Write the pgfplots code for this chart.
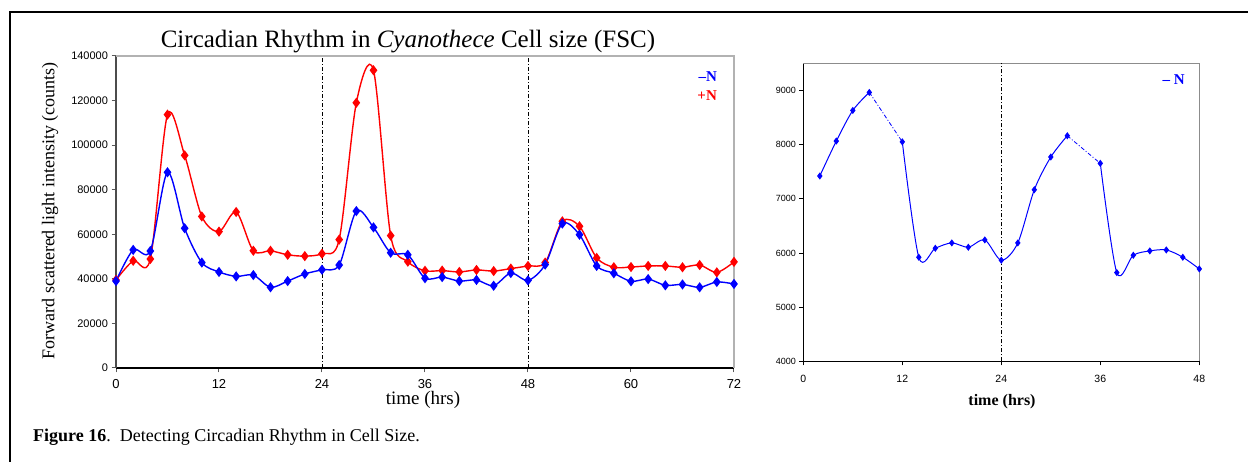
\documentclass[border=0pt]{standalone}
\usepackage{fontspec}
\setmainfont{Liberation Serif}
\newfontfamily\tickfont{Liberation Sans}
\usepackage{pgfplots}
\usepackage{pgfplotstable}
\pgfplotsset{compat=1.18}

% Forward scatter, nitrogen-free culture (-N)
\pgfplotstableread{
t v
0 39000
2 53000
4 52500
6 87800
8 62700
10 47300
12 43100
14 41100
16 41700
18 36200
20 39000
22 42200
24 44100
26 46200
28 70400
30 63100
32 51700
34 50800
36 40300
38 40800
40 39000
42 39500
44 36900
46 42600
48 39300
50 46400
52 64800
54 59800
56 45800
58 42500
60 38900
62 39900
64 37100
66 37500
68 36200
70 38600
72 37700
}\minusN

% Forward scatter, nitrogen-replete culture (+N)
\pgfplotstableread{
t v
0 39500
2 48100
4 48900
6 113700
8 95400
10 68000
12 61200
14 70000
16 52600
18 52600
20 50800
22 50200
24 51300
26 57600
28 119000
30 133600
32 59400
34 47700
36 43600
38 43700
40 43100
42 44000
44 43500
46 44600
48 45800
50 47300
52 65800
54 63600
56 49400
58 45200
60 45300
62 45800
64 45800
66 45200
68 46200
70 42900
72 47600
}\plusN

% Second run (-N), split where samples are missing
\pgfplotstableread{
t v
2 7420
4 8065
6 8630
8 8963
}\runA
\pgfplotstableread{
t v
12 8050
14 5920
16 6086
18 6185
20 6105
22 6240
24 5865
26 6185
28 7166
30 7770
32 8163
}\runB
\pgfplotstableread{
t v
36 7653
38 5637
40 5957
42 6037
44 6055
46 5920
48 5705
}\runC

\begin{document}
\begin{tikzpicture}[x=1pt,y=1pt]
\useasboundingbox (0,0) rectangle (1248,462);
% figure frame
\draw[line width=2pt] (10,-2) -- (10,450) -- (1250,450);

\pgfplotsset{
  common/.style={
    scale only axis, anchor=south west, clip=false,
    axis line style={draw=none},
    tick pos=left, tick align=outside,
    scaled ticks=false,
    /pgf/number format/fixed,
    /pgf/number format/precision=0,
    /pgf/number format/1000 sep={},
    /pgf/number format/assume math mode=true,
  },
  vline/.style={black, line width=0.8pt, dash pattern=on 4pt off 2pt on 1pt off 2pt, forget plot},
}

% ---------- left panel ----------
\begin{axis}[common,
  at={(116pt,94pt)}, width=618pt, height=312pt,
  xmin=0, xmax=72, ymin=0, ymax=140000,
  xtick={0,12,...,72}, ytick={0,20000,...,140000},
  major tick length=4.5pt,
  tick style={black!65, line width=1pt},
  yticklabel style={font=\tickfont\fontsize{11}{11}\selectfont},
  xticklabel style={font=\tickfont\fontsize{13}{13}\selectfont, yshift=-3pt},
]
\draw[black, line width=1.5pt] (rel axis cs:0,0) -- (rel axis cs:1,0);
\draw[black!70, line width=2.5pt] (rel axis cs:0,0) -- (rel axis cs:0,1);
\draw[black!30, line width=1.5pt] (rel axis cs:0,1) -- (rel axis cs:1,1) -- (rel axis cs:1,0);
\addplot[vline] coordinates {(24,0) (24,140000)};
\addplot[vline] coordinates {(48,0) (48,140000)};
\addplot[red, line width=1.4pt, smooth, tension=0.5, mark=diamond*, mark size=4pt,
  mark options={solid}] table[x=t, y=v] {\plusN};
\addplot[blue, line width=1.4pt, smooth, tension=0.5, mark=diamond*, mark size=4pt,
  mark options={solid}] table[x=t, y=v] {\minusN};
\node[anchor=east, text=blue, font=\bfseries\fontsize{15}{15}\selectfont] at (rel axis cs:0.978,0.933) {--N};
\node[anchor=east, text=red, font=\bfseries\fontsize{15}{15}\selectfont] at (rel axis cs:0.978,0.872) {+N};
\end{axis}

\node[font=\fontsize{25}{25}\selectfont] at (408,420) {Circadian Rhythm in \textit{Cyanothece} Cell size (FSC)};
\node[rotate=90, font=\fontsize{18}{18}\selectfont] at (50,251) {Forward scattered light intensity (counts)};
\node[font=\fontsize{19}{19}\selectfont] at (423,62) {time (hrs)};

% ---------- right panel ----------
\begin{axis}[common,
  at={(803.3pt,100.7pt)}, width=396pt, height=298pt,
  xmin=0, xmax=48, ymin=4000, ymax=9500,
  xtick={0,12,...,48}, ytick={4000,5000,...,9000},
  major tick length=4pt,
  tick style={black, line width=0.8pt},
  yticklabel style={font=\tickfont\fontsize{9}{9}\selectfont},
  xticklabel style={font=\tickfont\fontsize{10.5}{10.5}\selectfont, yshift=-6pt},
]
\draw[black, line width=1pt] (rel axis cs:0,1) -- (rel axis cs:0,0) -- (rel axis cs:1,0);
\draw[black!45, line width=1pt] (rel axis cs:0,1) -- (rel axis cs:1,1) -- (rel axis cs:1,0);
\addplot[vline] coordinates {(24,4000) (24,9500)};
\addplot[blue, line width=0.8pt, dash pattern=on 4pt off 2pt on 1pt off 2pt, forget plot]
  coordinates {(8,8963) (12,8050)};
\addplot[blue, line width=0.8pt, dash pattern=on 4pt off 2pt on 1pt off 2pt, forget plot]
  coordinates {(32,8163) (36,7653)};
\addplot[blue, line width=1pt, smooth, tension=0.5, mark=diamond*, mark size=2.8pt] table[x=t, y=v] {\runA};
\addplot[blue, line width=1pt, smooth, tension=0.5, mark=diamond*, mark size=2.8pt] table[x=t, y=v] {\runB};
\addplot[blue, line width=1pt, smooth, tension=0.5, mark=diamond*, mark size=2.8pt] table[x=t, y=v] {\runC};
\node[anchor=east, text=blue, font=\bfseries\fontsize{15}{15}\selectfont] at (rel axis cs:0.972,0.944) {-- N};
\end{axis}

\node[font=\bfseries\fontsize{16}{16}\selectfont] at (1002,60) {time (hrs)};

% caption
\node[anchor=base west, inner sep=0pt, font=\fontsize{18}{18}\selectfont] at (33,20)
  {\textbf{Figure 16}.\ \ Detecting Circadian Rhythm in Cell Size.};
\end{tikzpicture}
\end{document}
